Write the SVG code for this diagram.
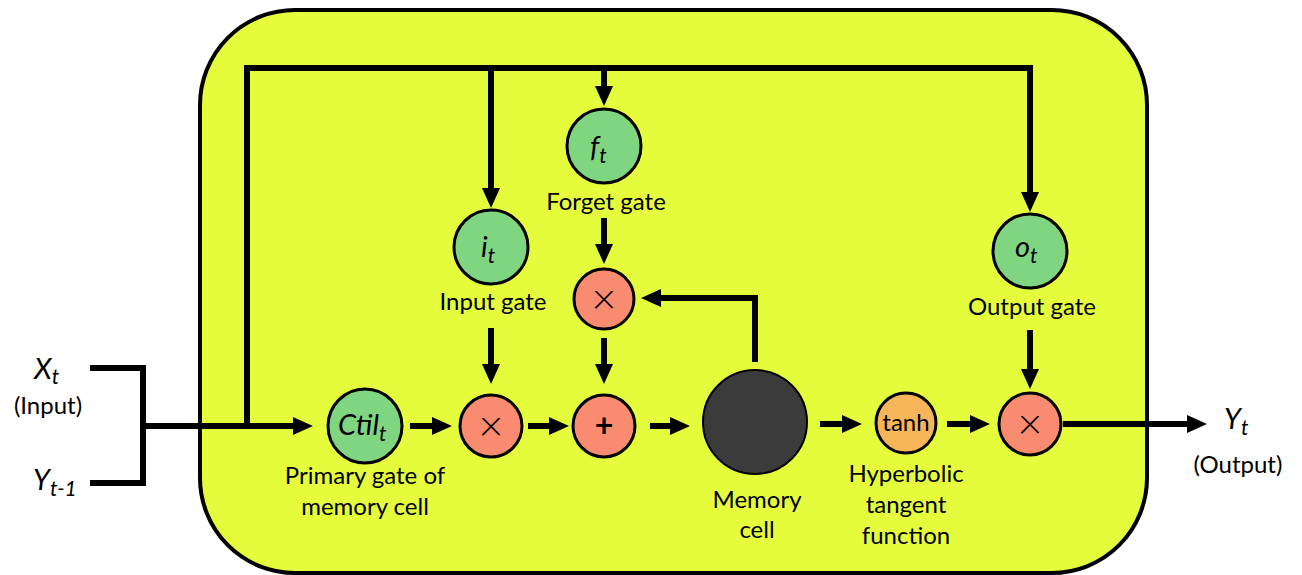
<svg xmlns="http://www.w3.org/2000/svg" width="1302" height="575" viewBox="0 0 1302 575">
<defs>
<style>
.ln{fill:none;stroke:#000;stroke-width:6;stroke-linejoin:miter}
.arr{marker-end:url(#ah)}
.ol{stroke:#000;stroke-width:3}
.g{fill:#80D580}
.s{fill:#F98C70}
.t{font-family:Lato,"Open Sans",sans-serif;fill:#000}
.lab{font-size:24px;text-anchor:middle}
.it{font-style:italic;font-size:29px}
.sub{font-size:21px}
.x{font-family:"Liberation Sans",sans-serif;font-size:46px;text-anchor:middle;fill:#000;stroke:#F98C70;stroke-width:1.4}
</style>
<marker id="ah" markerUnits="userSpaceOnUse" markerWidth="20" markerHeight="18" refX="2" refY="9" orient="auto">
<path d="M0,0 L20,9 L0,18 z" fill="#000"/>
</marker>
</defs>
<rect width="1302" height="575" fill="#fff"/>
<g id="cell-box">
<path d="M295,10 H1052 A95,95 0 0 1 1147,105 V478 A95,95 0 0 1 1052,573 H295 A95,95 0 0 1 200,478 V105 A95,95 0 0 1 295,10 Z" fill="#E5FC3D" stroke="#000" stroke-width="4"/>
</g>
<g id="connectors">
<path class="ln" d="M90,368 H143 V483 H90"/>
<path class="ln arr" d="M143,426 H295"/>
<path class="ln arr" d="M247,426 V68 H1030 V194"/>
<path class="ln arr" d="M491,68 V190"/>
<path class="ln arr" d="M604,68 V88"/>
<path class="ln arr" d="M410,426 H434"/>
<path class="ln arr" d="M528,426 H551"/>
<path class="ln arr" d="M650,426 H672"/>
<path class="ln arr" d="M820,424 H844"/>
<path class="ln arr" d="M947,424 H972"/>
<path class="ln arr" d="M1063,424 H1189"/>
<path class="ln arr" d="M491,328 V366"/>
<path class="ln arr" d="M604,218 V246"/>
<path class="ln arr" d="M604,338 V366"/>
<path class="ln arr" d="M755,362 V298 H659"/>
<path class="ln arr" d="M1030,330 V371"/>
</g>
<g id="input-labels">
<text class="t it" x="34" y="379">X<tspan class="sub" dy="5">t</tspan></text>
<text class="t lab" x="48" y="414">(Input)</text>
<text class="t it" x="33" y="490">Y<tspan class="sub" dy="6">t-1</tspan></text>
</g>
<g id="ctil">
<circle class="g ol" cx="365" cy="426" r="37"/>
<text class="t it" x="338" y="435">Ctil<tspan class="sub" dy="6">t</tspan></text>
<text class="t lab" x="365" y="484">Primary gate of</text>
<text class="t lab" x="365" y="515">memory cell</text>
</g>
<g id="input-gate">
<circle class="g ol" cx="491" cy="247" r="37"/>
<text class="t it" x="481" y="257">i<tspan class="sub" dy="6">t</tspan></text>
<text class="t lab" x="493" y="310">Input gate</text>
</g>
<g id="forget-gate">
<circle class="g ol" cx="604" cy="146" r="37"/>
<text class="t it" x="590" y="157">f<tspan class="sub" dy="6">t</tspan></text>
<text class="t lab" x="606" y="210">Forget gate</text>
</g>
<g id="mult-input">
<circle class="s ol" cx="491" cy="426" r="31"/>
<text class="x" x="491" y="442">×</text>
</g>
<g id="mult-forget">
<circle class="s ol" cx="604" cy="299" r="30"/>
<text class="x" x="604" y="315">×</text>
</g>
<g id="plus">
<circle class="s ol" cx="604" cy="426" r="31"/>
<text class="t" x="604" y="437" font-size="32" font-weight="bold" text-anchor="middle">+</text>
</g>
<g id="memory-cell">
<circle cx="755" cy="422" r="52" fill="#3B3B3B" stroke="#000" stroke-width="2"/>
<text class="t lab" x="757" y="508">Memory</text>
<text class="t lab" x="757" y="538">cell</text>
</g>
<g id="tanh">
<circle cx="906" cy="423" r="30" fill="#F7B55A" class="ol"/>
<text class="t" x="906" y="431" font-size="24" text-anchor="middle">tanh</text>
<text class="t lab" x="906" y="482">Hyperbolic</text>
<text class="t lab" x="906" y="513">tangent</text>
<text class="t lab" x="906" y="544">function</text>
</g>
<g id="output-gate">
<circle class="g ol" cx="1030" cy="251" r="37"/>
<text class="t it" x="1015" y="257">o<tspan class="sub" dy="6">t</tspan></text>
<text class="t lab" x="1032" y="315">Output gate</text>
</g>
<g id="mult-output">
<circle class="s ol" cx="1030" cy="424" r="31"/>
<text class="x" x="1030" y="440">×</text>
</g>
<g id="output-labels">
<text class="t it" x="1224" y="429">Y<tspan class="sub" dy="6">t</tspan></text>
<text class="t lab" x="1238" y="473">(Output)</text>
</g>
</svg>
